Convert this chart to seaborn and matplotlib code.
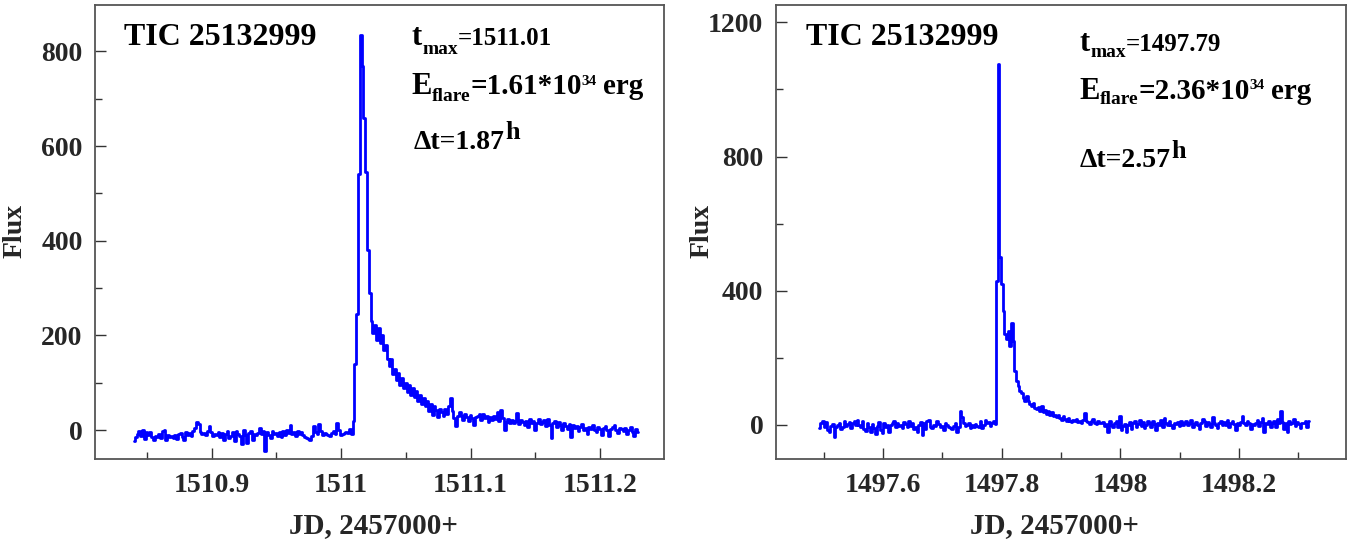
import numpy as np
import pandas as pd
import matplotlib
matplotlib.use("Agg")
import matplotlib.pyplot as plt
import seaborn as sns

# ---------------- data ----------------
left_start = 1510.840      # JD-2457000 of first sample, left panel
left_cadence = 0.00139     # days between samples
left_pre = [-22, -15, -8, -2, -12, 0, -18, -5, -10, -3, -14, -20, -12, -15, -8, -16, -2, 0, -20, -10,
            -14, -12, -16, -10, -18, -8, -6, -14, -20, -4, -10, -6, -12, -2, 5, 18, 12, -4, -8, -6,
            -10, -2, 8, -4, -12, -8, -10, -4, -14, -6, -20, -8, -2, -16, -12, -4, -24, -2, -8, -12,
            -30, 0, -10, -28, -6, -2, -20, -8, -10, -6, 5, -8, -2, -45, -4, -10, -16, -2, -8, -6,
            -12, -4, -14, -2, -10, 0, -6, 10, -8, -4, -12, -2, -8, -4, -10, -14, -16, -18, -20, -12,
            8, -4, -8, 12, -2, -10, -6, -8, -10, -12, -6, -2, -8, 14, 0, -10, -8, -6, -4, -6, 2, -8]
left_flare = [20, 140, 245, 540,
              835, 770, 660, 545, 380, 290,
              230, 205, 222, 190, 215, 185, 200, 170, 180, 150,
              135, 150, 118, 130, 105, 120, 95, 110, 88, 100,
              80, 95, 75, 88, 70, 82, 62, 75, 55, 68,
              50, 62, 40, 55, 32, 50, 42, 28, 45, 38,
              30, 45, 35, 50, 67, 40, 25, 8, 30, 38,
              30, 22, 34, 28, 20, 32, 25, 10, 28, 30,
              35, 22, 35, 26, 30, 18, 28, 22, 30, 24,
              38, 20, 42, 25, 0, 18, 24, 16, 22, 14,
              20, 36, 12, 22, 18, 10, 20, 6, 24, 14,
              20, 0, 15, 24, 12, 18, 22, 8, 24, 10,
              -17, 14, 20, 6, 18, 10, 0, 14, 8, 2,
              12, -15, 10, 4, 8, -2, 6, 12, 0, 4,
              -8, 6, 2, 10, 0, -4, 6, 2, -10, 4,
              8, 0, -12, 2, 6, 10, 0, -6, 4, 2,
              -2, 4, -8, 0, 6, -4, -12, 2, -4]

right_start = 1497.4924
right_cadence = 0.0028
right_pre = [-10, 5, 12, -8, 8, -15, -20, -5, 3, -35, -8, 0, 5, -12, -6, 10, -4, 2, 8, -10,
             5, 12, -2, 15, 0, -8, 10, -12, -18, 4, -6, -22, 2, -10, -28, -4, 8, -15, -25, 5,
             -6, -2, -20, 0, 6, 10, -8, 4, -4, 0, -10, 8, 2, -6, 12, -4, 6, -14, -8, -20,
             -2, 8, -30, 4, -12, 10, 15, -6, -10, 0, -4, 12, 2, -8, -4, -16, 4, -2, -6, -10,
             -12, -4, 6, -20, -8, 40, 22, 6, -4, -2, 4, -10, 0, -8, 2, -4, -6, 10, -10, -2,
             14, 4, 8, -4, 6, 10, 2]
right_flare = [430, 1075, 500, 420, 340, 270, 255, 280, 235, 305,
               250, 160, 130, 115, 100, 95, 80, 72, 85, 70,
               62, 55, 65, 50, 48, 52, 40, 55, 38, 45,
               32, 40, 30, 38, 25, 30, 22, 28, 20, 14,
               25, 18, 10, 20, 12, 8]
right_post = [15, 10, 18, 8, 12, 6, 14, 35, 10, 8, 2, 10, 18, 6, 2, 12, 5, 4, 8, -4,
              2, -22, 10, 0, -6, 4, 12, -8, 25, -15, -5, 2, -20, 0, 8, -12, 4, 10, -6, 2,
              15, -4, 8, -10, 0, 12, 4, -6, 10, 2, -15, 6, 0, 14, -8, 20, 4, -2, 10, 0,
              -10, 6, 2, 8, -4, 12, 0, 4, 10, -2, 6, 15, -6, 2, 8, 0, -12, 4, 18, 10,
              -4, 8, 2, -8, 22, 6, 0, -10, 4, 12, -2, 8, 0, 14, -6, 4, 10, 2, -16, 6,
              0, 8, 25, 4, -2, 10, 6, -12, 2, 0, 4, 14, -4, 8, 20, -20, 6, 2, 12, -6,
              4, 10, -8, 16, 6, 40, 8, -14, 4, -22, 12, 2, 6, 18, -4, 8, 2, -10, 6, 4, 12, -6, 10]

left_xticks = [1510.9, 1511.0, 1511.1, 1511.2]
left_xticklabels = ["1510.9", "1511", "1511.1", "1511.2"]
left_xminor = [1510.85, 1510.95, 1511.05, 1511.15]
left_yticks = [0, 200, 400, 600, 800]
left_yminor = [100, 300, 500, 700]
right_xticks = [1497.6, 1497.8, 1498.0, 1498.2]
right_xticklabels = ["1497.6", "1497.8", "1498", "1498.2"]
right_xminor = [1497.5, 1497.7, 1497.9, 1498.1, 1498.3]
right_yticks = [0, 400, 800, 1200]
right_yminor = [200, 600, 1000]

star_name = "TIC 25132999"
left_tmax, left_E, left_dt = "=1511.01", "=1.61*10", "Δt=1.87"
right_tmax, right_E, right_dt = "=1497.79", "=2.36*10", "Δt=2.57"

# ---------------- build frames ----------------
left_flux = left_pre + left_flare
right_flux = right_pre + right_flare + right_post
df_left = pd.DataFrame({"JD": left_start + left_cadence * np.arange(len(left_flux)), "Flux": left_flux})
df_right = pd.DataFrame({"JD": right_start + right_cadence * np.arange(len(right_flux)), "Flux": right_flux})

# ---------------- style ----------------
sns.set_style("ticks")
plt.rcParams["font.family"] = ["Liberation Serif", "DejaVu Serif"]
plt.rcParams["font.weight"] = "bold"
plt.rcParams["axes.labelweight"] = "bold"

W, H = 1357, 541
fig = plt.figure(figsize=(W / 100, H / 100), dpi=100)
ax1 = fig.add_axes([95 / W, 1 - 459 / H, 569 / W, 454 / H])
ax2 = fig.add_axes([776 / W, 1 - 459 / H, 570 / W, 454 / H])

for ax, df in ((ax1, df_left), (ax2, df_right)):
    sns.lineplot(data=df, x="JD", y="Flux", ax=ax, color="#0000ff", linewidth=2.0,
                 drawstyle="steps-mid", estimator=None, sort=False, legend=False)

ax1.set_xlim(1510.810, 1511.2494)
ax1.set_ylim(-61, 898)
ax2.set_xlim(1497.419, 1498.381)
ax2.set_ylim(-102, 1252)

ax1.set_xticks(left_xticks)
ax1.set_xticklabels(left_xticklabels)
ax1.set_xticks(left_xminor, minor=True)
ax1.set_yticks(left_yticks)
ax1.set_yticks(left_yminor, minor=True)
ax2.set_xticks(right_xticks)
ax2.set_xticklabels(right_xticklabels)
ax2.set_xticks(right_xminor, minor=True)
ax2.set_yticks(right_yticks)
ax2.set_yticks(right_yminor, minor=True)

for ax in (ax1, ax2):
    ax.tick_params(which="both", direction="in", top=False, right=False, color="#333333", width=1.0)
    ax.tick_params(which="major", length=8, labelsize=20)
    ax.tick_params(which="minor", length=5)
    ax.tick_params(axis="x", which="major", pad=10)
    ax.tick_params(axis="y", which="major", pad=9)
    for sp in ax.spines.values():
        sp.set_visible(True)
        sp.set_color("#555555")
        sp.set_linewidth(1.3)
    ax.set_xlabel("JD, 2457000+", fontsize=21, fontweight="bold")
    ax.set_ylabel("Flux", fontsize=20, fontweight="bold")

ax1.xaxis.set_label_coords(0.489, -0.117)
ax2.xaxis.set_label_coords(0.489, -0.117)
ax1.yaxis.set_label_coords(-0.118, 0.502)
ax2.yaxis.set_label_coords(-0.107, 0.502)

renderer = fig.canvas.get_renderer()


def rich(x_px, base_px, segs):
    """Place text segments left-to-right on a common baseline (pixel coords from top-left)."""
    xd = x_px
    yd = H - base_px
    for s, size, dy, gap in segs:
        xd += gap
        t = fig.text(xd / W, (yd + dy) / H, s, fontsize=size, fontweight="bold",
                     ha="left", va="baseline", color="black")
        bb = t.get_window_extent(renderer=renderer)
        xd = bb.x1


# left panel annotations
rich(124, 45, [(star_name, 23, 0, 0)])
rich(412, 45, [("t", 22, 0, 0), ("max", 14, -9, 0), (left_tmax, 18, 0, 0)])
rich(411, 94, [("E", 22, 0, 0), ("flare", 14, -7, 0), (left_E, 21, 0, 0), ("34", 11, 9, 0), ("erg", 21, 0, 6)])
rich(414, 149, [(left_dt, 20, 0, 0), ("h", 19, 10, 0)])

# right panel annotations
rich(806, 45, [(star_name, 23, 0, 0)])
rich(1080, 51, [("t", 22, 0, 0), ("max", 14, -6, 0), (right_tmax, 18, 0, 0)])
rich(1079, 99, [("E", 22, 0, 0), ("flare", 14, -5, 0), (right_E, 21, 0, 0), ("34", 11, 10, 0), ("erg", 21, 0, 6)])
rich(1080, 167, [(right_dt, 20, 0, 0), ("h", 19, 9, 0)])

fig.savefig("out.png", dpi=100)
